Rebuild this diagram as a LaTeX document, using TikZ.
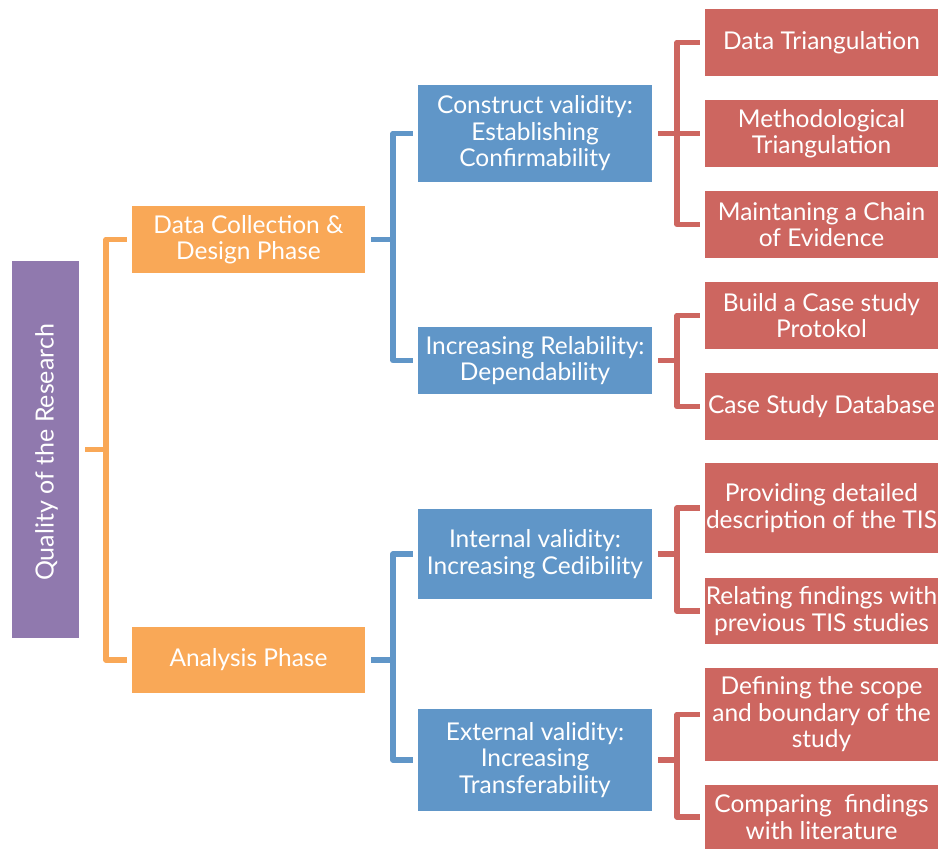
\documentclass[tikz,border=0pt]{standalone}
\usepackage{fontspec}
\setmainfont{Lato}
\definecolor{qpurple}{HTML}{9079AE}
\definecolor{borange}{HTML}{F9A857}
\definecolor{bblue}{HTML}{6096C8}
\definecolor{bred}{HTML}{CD6660}
\begin{document}
\begin{tikzpicture}[x=1pt,y=-1pt,
  box/.style={rectangle,inner sep=0pt,minimum width=233pt,text=white,align=center,
    font=\fontsize{24.5}{26.5}\selectfont},
  obox/.style={box,fill=borange},
  bbox/.style={box,fill=bblue,minimum width=234pt},
  rbox/.style={box,fill=bred},
  conn/.style={line width=5.5pt,line join=round,line cap=butt},
  oline/.style={conn,draw=borange},
  bline/.style={conn,draw=bblue},
  rline/.style={conn,draw=bred}]
\useasboundingbox (0,0) rectangle (941,850);
% root
\node[rectangle,fill=qpurple,minimum width=67pt,minimum height=377pt,inner sep=0pt] (Q) at (45.5,449.5) {};
\node[rotate=90,text=white,font=\fontsize{25}{27}\selectfont] (QT) at ([xshift=1pt,yshift=-3pt]Q.center) {Quality of the Research};
% phases
\node[obox,minimum height=67pt] (O1) at (248.5,239.5) {Data Collection \&\\Design Phase};
\node[obox,minimum height=66pt] (O2) at (248.5,660) {Analysis Phase};
% blue
\node[bbox,minimum height=97pt] (B1) at (535,133.5) {Construct validity:\\Establishing\\Confirmability};
\node[bbox,minimum height=67pt] (B2) at (535,360.5) {Increasing Relability:\\Dependability};
\node[bbox,minimum height=90pt] (B3) at (535,554) {Internal validity:\\Increasing Cedibility};
\node[bbox,minimum height=102pt] (B4) at (535,760) {External validity:\\Increasing\\Transferability};
% red
\node[rbox,minimum height=67pt] (R1) at (821.5,42.5) {Data Triangulation};
\node[rbox,minimum height=67pt] (R2) at (821.5,133.5) {Methodological\\Triangulation};
\node[rbox,minimum height=67pt] (R3) at (821.5,224.5) {Maintaning a Chain\\of Evidence};
\node[rbox,minimum height=67pt] (R4) at (821.5,315.5) {Build a Case study\\Protokol};
\node[rbox,minimum height=67pt] (R5) at (821.5,406.5) {Case Study Database};
\node[rbox,minimum height=90pt] (R6) at (821.5,508) {Providing detailed\\description of the TIS};
\node[rbox,minimum height=66pt] (R7) at (821.5,611) {Relating findings with\\previous TIS studies};
\node[rbox,minimum height=93pt] (R8) at (821.5,714.5) {Defining the scope\\and boundary of the\\study};
\node[rbox,minimum height=64pt] (R9) at (821.5,817) {Comparing~ findings\\with literature};
% bracket x positions
\coordinate (ox) at (106,0);
\coordinate (bx) at (393,0);
\coordinate (rx) at (677,0);
% orange connectors
\draw[oline] ([xshift=6pt]Q.east) -- (ox |- Q.east);
\draw[oline] ([xshift=-5pt]O1.west) -- (ox |- O1.west) -- (ox |- O2.west) -- ([xshift=-5pt]O2.west);
% blue connectors
\draw[bline] ([xshift=6pt]O1.east) -- (bx |- O1.east);
\draw[bline] ([xshift=-5pt]B1.west) -- (bx |- B1.west) -- (bx |- B2.west) -- ([xshift=-5pt]B2.west);
\draw[bline] ([xshift=6pt]O2.east) -- (bx |- O2.east);
\draw[bline] ([xshift=-5pt]B3.west) -- (bx |- B3.west) -- (bx |- B4.west) -- ([xshift=-5pt]B4.west);
% red connectors
\draw[rline] ([xshift=6pt]B1.east) -- ([xshift=-5pt]R2.west);
\draw[rline] ([xshift=-5pt]R1.west) -- (rx |- R1.west) -- (rx |- R3.west) -- ([xshift=-5pt]R3.west);
\draw[rline] ([xshift=6pt]B2.east) -- (rx |- B2.east);
\draw[rline] ([xshift=-5pt]R4.west) -- (rx |- R4.west) -- (rx |- R5.west) -- ([xshift=-5pt]R5.west);
\draw[rline] ([xshift=6pt]B3.east) -- (rx |- B3.east);
\draw[rline] ([xshift=-5pt]R6.west) -- (rx |- R6.west) -- (rx |- R7.west) -- ([xshift=-5pt]R7.west);
\draw[rline] ([xshift=6pt]B4.east) -- (rx |- B4.east);
\draw[rline] ([xshift=-5pt]R8.west) -- (rx |- R8.west) -- (rx |- R9.west) -- ([xshift=-5pt]R9.west);
\end{tikzpicture}
\end{document}
